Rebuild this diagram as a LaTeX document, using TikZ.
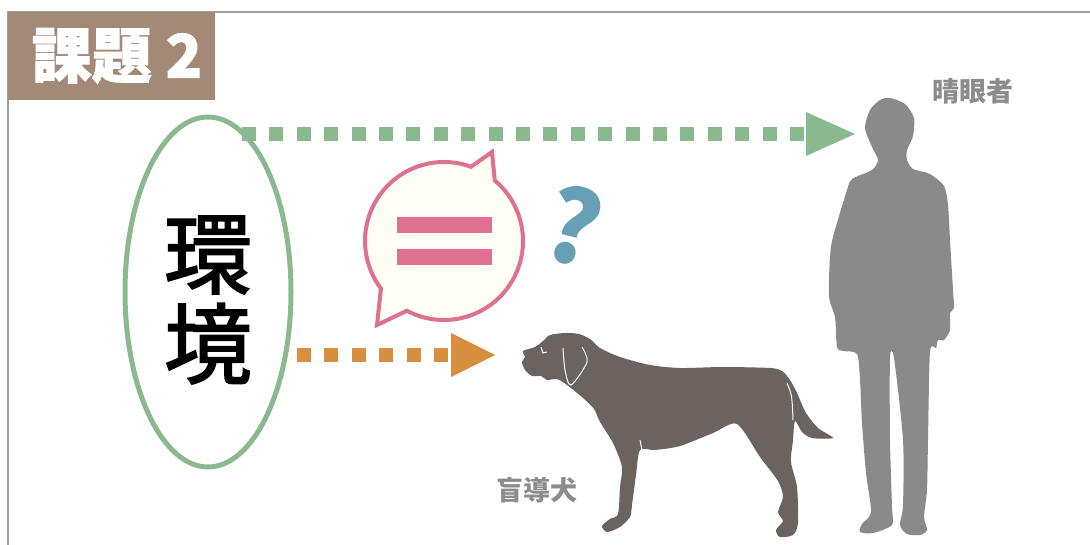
\documentclass[tikz,border=0pt]{standalone}
\usepackage{fontspec}
\setmainfont{Noto Sans CJK JP}
\newfontfamily\envfont{Noto Sans CJK JP}[FakeBold=2]
\newfontfamily\heavyfont{Noto Sans CJK JP}[BoldFeatures={FakeBold=1.5}]
\usetikzlibrary{arrows.meta, shapes.geometric, calc, positioning}
\definecolor{titleBrown}{HTML}{A38A78}
\definecolor{frameGray}{HTML}{A0A0A0}
\definecolor{envGreen}{HTML}{8AB88F}
\definecolor{dotOrange}{HTML}{D78E3E}
\definecolor{bubblePink}{HTML}{DE7090}
\definecolor{bubbleCream}{HTML}{FFFEF4}
\definecolor{askBlue}{HTML}{67A0B4}
\definecolor{dogBrown}{HTML}{6B635D}
\definecolor{seerGray}{HTML}{8A8A8A}
\definecolor{labelGray}{HTML}{8C8C8C}
\tikzset{
    frameLine/.style={draw=frameGray, line width=1.5pt},
    titleText/.style={text=white, font=\heavyfont\bfseries\fontsize{60}{64}\selectfont, inner sep=0pt},
    envEllipse/.style={ellipse, draw=envGreen, line width=5pt, inner sep=0pt, minimum width=166pt, minimum height=350pt},
    envText/.style={align=center, inner sep=0pt, font=\envfont\fontsize{88}{90}\selectfont},
    dotLine/.style={line width=14pt, dash pattern=on 14pt off 13.4pt},
    bubble/.style={draw=bubblePink, fill=bubbleCream, line width=4pt, line join=miter},
    askMark/.style={text=askBlue, font=\bfseries\fontsize{100}{100}\selectfont, inner sep=0pt},
    nameLabel/.style={text=labelGray, font=\bfseries\fontsize{27}{30}\selectfont, inner sep=0pt},
}
\newcommand{\drawDots}[4]{
    \draw[dotLine, draw=#1, -{Triangle[length=#4, width=44pt, line width=0pt]}] (#2) -- (#3);
}

\begin{document}
\begin{tikzpicture}[x=1pt, y=-1pt]
    \useasboundingbox (0,0) rectangle (1090,545);

    % frame and title
    \draw[frameLine] (8,545) -- (8,12) -- (1090,12);
    \fill[titleBrown] (8,12) rectangle (215,100);
    \node[titleText] (title) at (117,56) {課題 2};

    % environment
    \node[envEllipse] (env) at (208,292) {};
    \node[envText] (envWord) at (208,300) {環\\境};

    % guide dog
    \fill[dogBrown] plot[smooth cycle, tension=0.45] coordinates {
        (523,351) (535,347) (543,341) (550,335) (565,333) (579,334) (590,339) (600,348)
        (620,357) (650,365) (680,368) (723,367) (770,368) (782,371) (790,380) (797,393)
        (806,413) (818,428) (833,438) (812,438) (802,432) (795,421) (793,440) (791,462)
        (797,487) (798,523) (793,535) (780,537) (776,530) (783,521) (778,512) (783,497)
        (778,481) (760,457) (737,424) (713,433) (680,446) (655,450) (640,450) (636,475)
        (632,505) (630,517) (620,527) (607,532) (602,526) (610,519) (618,514) (620,487)
        (622,467) (613,443) (600,422) (594,409) (583,398) (567,385) (557,379) (547,380)
        (541,376) (532,376) (525,370) (522,362) (525,357)
    };
    \draw[white, line width=1pt] plot[smooth] coordinates {(563,348) (565,370) (571,385) (587,362) (582,347)};
    \draw[white, line width=1pt] (541,347) -- (543,353) -- (547,352);
    \draw[white, line width=1pt] (787,383) .. controls (792,395) .. (793,420);
    \draw[white, line width=1pt] (640,440) -- (642,450);
    \coordinate (dogNose) at (495,355);
    \node[nameLabel] (dogLabel) at (537,490) {盲導犬};

    % sighted person
    \fill[seerGray] plot[smooth cycle, tension=0.45] coordinates {
        (890,98) (905,104) (914,118) (913,136) (907,150) (907,160) (913,169) (930,174)
        (944,186) (948,205) (950,240) (953,290) (954,308) (950,313) (950,330) (944,340)
        (938,340) (936,348) (930,352) (928,440) (927,490) (924,517) (927,530) (920,535)
        (907,534) (900,525) (903,505) (903,440) (894,358) (890,358) (890,440) (892,507)
        (892,525) (873,533) (860,532) (862,524) (871,512) (866,473) (862,423) (860,380)
        (857,354) (843,351) (837,347) (835,317) (829,297) (830,257) (833,237) (847,190)
        (852,179) (872,170) (878,160) (872,147) (865,128) (870,110) (880,100)
    };
    \coordinate (seerHead) at (855,134);
    \node[nameLabel] (seerLabel) at (973,91) {晴眼者};

    % arrows out of the environment
    \coordinate (greenStart) at (242,134);
    \coordinate (orangeStart) at (297,355);
    \drawDots{envGreen}{greenStart}{seerHead}{49pt}
    \drawDots{dotOrange}{orangeStart}{dogNose}{44pt}

    % speech bubble with equals sign
    \coordinate (bc) at (444,241);
    \draw[bubble] ($(bc)+(-50:79)$) -- (492,152) -- ($(bc)+(-70:79)$)
        arc[start angle=-70, end angle=-217, radius=79] -- (377,325) -- ($(bc)+(-242:79)$)
        arc[start angle=-242, end angle=-410, radius=79] -- cycle;
    \fill[bubblePink] (397,217) rectangle (492,233);
    \fill[bubblePink] (397,249) rectangle (492,265);
    \node[askMark, rotate=-14] (ask) at (574,226) {?};

\end{tikzpicture}
\end{document}
